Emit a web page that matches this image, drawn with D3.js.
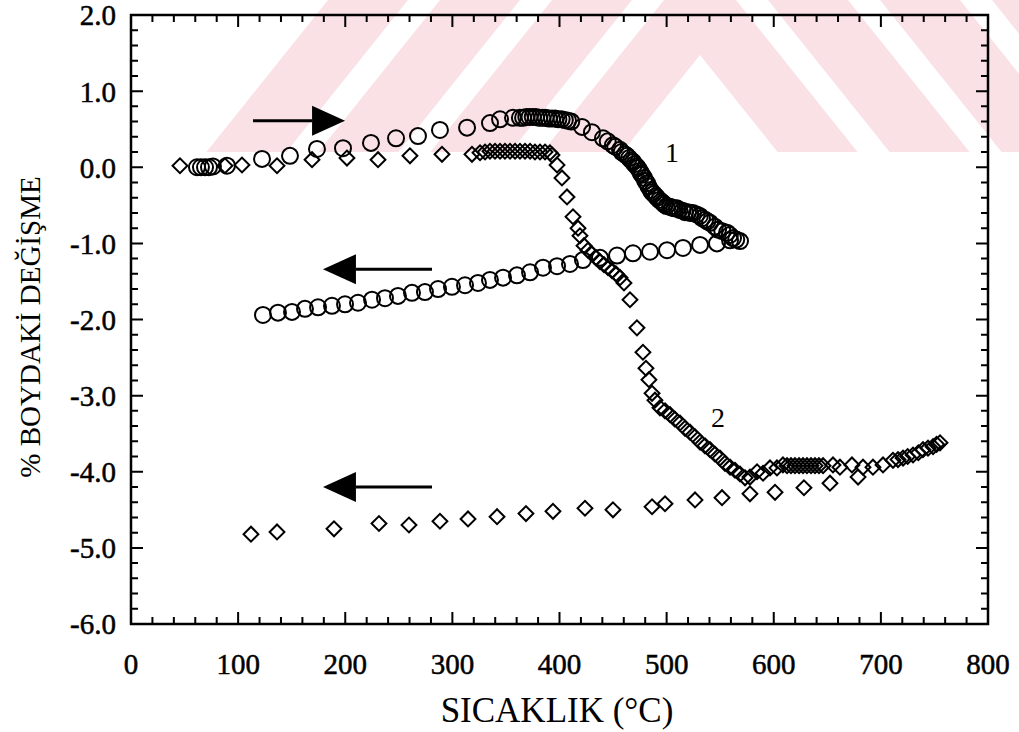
<!DOCTYPE html>
<html>
<head>
<meta charset="utf-8">
<script src="https://cdn.jsdelivr.net/npm/d3@7"></script>
<style>
  body { margin: 0; background: #fff; }
  text { font-family: "Liberation Serif", "Times New Roman", serif; fill: #000; }
</style>
</head>
<body>
<svg id="chart" width="1019" height="732"></svg>
<script>
// sample 1 (circles): heating, then cooling  [T (C), % change]
var circleHeating = [[61.6,0.00],[65.3,0.00],[69.1,0.00],[72.8,0.00],[76.5,0.01],[89.6,0.02],[122.3,0.11],[148.4,0.15],[173.6,0.24],[197.9,0.25],[224.0,0.32],[247.4,0.38],[267.9,0.41],[288.4,0.49],[313.7,0.52],[335.1,0.58],[344.5,0.63],[356.6,0.65],[363,0.65],[366,0.65],[369,0.66],[372,0.66],[375,0.66],[378,0.66],[381,0.65],[384,0.65],[387,0.65],[390,0.64],[393,0.64],[396,0.64],[399,0.63],[402,0.63],[405,0.62],[408,0.61],[411,0.60],[421.0,0.53],[430.3,0.46],[440.6,0.38],[445,0.34],[449.9,0.29],[452,0.27],[456.5,0.23],[458,0.20],[461,0.17],[463,0.15],[465,0.12],[467,0.09],[468.6,0.07],[470,0.04],[472,0.01],[473.3,-0.01],[475,-0.05],[476,-0.08],[477,-0.10],[479,-0.14],[480,-0.18],[481.7,-0.21],[483,-0.25],[485,-0.30],[486.4,-0.33],[488,-0.35],[490,-0.38],[491,-0.40],[493,-0.43],[495,-0.45],[496.6,-0.47],[498,-0.49],[500,-0.51],[503.2,-0.52],[505,-0.53],[507,-0.54],[509.7,-0.54],[512,-0.56],[515,-0.57],[517.2,-0.59],[520,-0.59],[522,-0.60],[524.6,-0.60],[528,-0.62],[531,-0.64],[533,-0.67],[536,-0.69],[538,-0.71],[540.5,-0.73],[545,-0.78],[548,-0.82],[552,-0.84],[556.4,-0.86],[559,-0.89],[562,-0.93],[565,-0.95],[568.5,-0.97]];
var circleCooling = [[559.2,-0.96],[547.0,-1.00],[531.2,-1.02],[515.3,-1.06],[500.4,-1.09],[484.5,-1.11],[468.6,-1.13],[453.7,-1.16],[437.8,-1.19],[421.9,-1.22],[409.8,-1.27],[397.7,-1.30],[384.6,-1.32],[372.5,-1.38],[360.3,-1.42],[347.3,-1.45],[335.1,-1.48],[323.9,-1.52],[311.8,-1.55],[299.6,-1.57],[286.6,-1.60],[274.4,-1.64],[262.3,-1.65],[249.2,-1.69],[237.1,-1.72],[225.0,-1.74],[211.9,-1.78],[199.8,-1.80],[187.6,-1.82],[174.6,-1.84],[162.4,-1.86],[150.3,-1.90],[137.2,-1.91],[123.2,-1.94]];

// sample 2 (diamonds): heating, then cooling
var diamondHeating = [[45.7,0.02],[87.7,0.02],[103.6,0.03],[136.3,0.02],[169.0,0.10],[201.6,0.12],[230.6,0.10],[260.4,0.15],[290.3,0.17],[318.3,0.17],[325.8,0.19],[330.5,0.20],[335.1,0.21],[339.8,0.21],[344.5,0.21],[349.1,0.21],[353.8,0.21],[358.5,0.21],[363.1,0.21],[367.8,0.21],[372.5,0.21],[377.1,0.20],[381.8,0.20],[386.5,0.20],[391.1,0.19],[393.0,0.16],[397.7,0.03],[402.3,-0.14],[407.0,-0.39],[412.6,-0.65],[417.3,-0.80],[419.1,-0.90],[422.9,-1.03],[426.6,-1.09],[430.3,-1.14],[434.1,-1.19],[437.8,-1.24],[441.5,-1.28],[445.3,-1.32],[449.0,-1.36],[452.7,-1.40],[456.5,-1.45],[460.2,-1.52],[465.8,-1.74],[472.3,-2.11],[477.9,-2.43],[480.7,-2.64],[483.5,-2.79],[486.4,-2.97],[489.1,-3.06],[493.8,-3.16],[498.5,-3.20],[503.2,-3.25],[507.8,-3.31],[512.5,-3.36],[517.2,-3.43],[521.8,-3.48],[526.5,-3.54],[531.2,-3.61],[535.8,-3.66],[540.5,-3.71],[545.2,-3.77],[549.8,-3.82],[554.5,-3.89],[559.2,-3.94],[563.8,-3.98],[568.5,-4.03],[573.2,-4.08],[577.8,-4.07],[584.4,-4.00],[590.0,-4.02],[596.5,-3.95],[603.0,-3.95],[608.6,-3.91],[612.4,-3.92],[616.1,-3.92],[619.8,-3.92],[623.6,-3.92],[627.3,-3.92],[631.0,-3.92],[634.8,-3.92],[638.5,-3.92],[642.2,-3.92],[646.0,-3.92],[655.3,-3.91],[661.8,-3.94],[673.0,-3.91],[683.3,-3.94],[692.6,-3.94],[702.0,-3.91],[711.3,-3.85],[716,-3.84],[720.7,-3.82],[725,-3.80],[730.0,-3.78],[735,-3.75],[739.3,-3.71],[744,-3.69],[748.7,-3.67],[752,-3.64],[755.2,-3.62]];
var diamondCooling = [[678.7,-4.07],[652.5,-4.15],[628.2,-4.21],[601.2,-4.27],[577.8,-4.29],[551.7,-4.34],[526.5,-4.37],[498.5,-4.42],[486.4,-4.46],[449.9,-4.50],[423.8,-4.48],[393.9,-4.52],[368.7,-4.55],[341.7,-4.59],[314.6,-4.62],[288.4,-4.65],[259.5,-4.70],[231.5,-4.68],[189.5,-4.75],[136.3,-4.79],[112.0,-4.82]];

var xTicks = [0, 100, 200, 300, 400, 500, 600, 700, 800];
var yTicks = [2, 1, 0, -1, -2, -3, -4, -5, -6];

// direction arrows [from, to] and curve numbers
var arrows = [[[113.9, 0.61], [199.8, 0.61]], [[281, -1.34], [179.2, -1.34]], [[281, -4.20], [179.2, -4.20]]];
var curveLabels = [["1", 505, 0.20], ["2", 548, -3.28]];

var width = 1019,
    height = 732;

var x = d3.scaleLinear().domain([0, 800]).range([131, 988]);
var y = d3.scaleLinear().domain([-6, 2]).range([624, 15]);

var svg = d3.select("#chart");

// faint watermark behind the plot (nested chevrons)
svg.append("clipPath").attr("id", "wmclip")
  .append("rect").attr("x", 120).attr("y", 0).attr("width", width - 120).attr("height", 152);
var wm = svg.append("g").attr("clip-path", "url(#wmclip)");
var cx = 700, slope = 1.25;
[[-45, 55], [-185, -85], [-325, -225], [-465, -365]].forEach(function(b) {
  var far = 600;
  var pts = [[cx - far, b[0] + slope * far], [cx, b[0]], [cx + far, b[0] + slope * far],
             [cx + far, b[1] + slope * far], [cx, b[1]], [cx - far, b[1] + slope * far]];
  wm.append("path")
      .attr("d", "M" + pts.join("L") + "Z")
      .attr("fill", "#fae1e6");
});

svg.append("rect")
    .attr("x", x(0))
    .attr("y", y(2))
    .attr("width", x(800) - x(0))
    .attr("height", y(-6) - y(2))
    .attr("fill", "none")
    .attr("stroke", "#000")
    .attr("stroke-width", 2.5);

// ticks, drawn inward on all four sides
function minor(lo, hi, step, majorStep) {
  return d3.range(lo, hi + step / 2, step).filter(function(v) {
    return Math.abs(v / majorStep - Math.round(v / majorStep)) > 1e-6;
  });
}
var xMinor = minor(0, 800, 20, 100);
var yMinor = minor(-6, 2, 0.2, 1);

var tickPath = d3.path();
xTicks.forEach(function(d) {
  tickPath.moveTo(x(d), y(-6)); tickPath.lineTo(x(d), y(-6) - 12);
  tickPath.moveTo(x(d), y(2)); tickPath.lineTo(x(d), y(2) + 12);
});
xMinor.forEach(function(d) {
  tickPath.moveTo(x(d), y(-6)); tickPath.lineTo(x(d), y(-6) - 7);
  tickPath.moveTo(x(d), y(2)); tickPath.lineTo(x(d), y(2) + 7);
});
yTicks.forEach(function(d) {
  tickPath.moveTo(x(0), y(d)); tickPath.lineTo(x(0) + 12, y(d));
  tickPath.moveTo(x(800), y(d)); tickPath.lineTo(x(800) - 12, y(d));
});
yMinor.forEach(function(d) {
  tickPath.moveTo(x(0), y(d)); tickPath.lineTo(x(0) + 7, y(d));
  tickPath.moveTo(x(800), y(d)); tickPath.lineTo(x(800) - 7, y(d));
});
svg.append("path")
    .attr("d", tickPath.toString())
    .attr("fill", "none")
    .attr("stroke", "#000")
    .attr("stroke-width", 2);

var labelFont = "29px";

svg.append("g").selectAll("text")
    .data(xTicks)
  .enter().append("text")
    .attr("x", d => x(d))
    .attr("y", y(-6) + 50)
    .attr("text-anchor", "middle")
    .style("font-size", labelFont)
    .style("stroke", "#000").style("stroke-width", 0.5)
    .text(d => d);

svg.append("g").selectAll("text")
    .data(yTicks)
  .enter().append("text")
    .attr("x", x(0) - 15)
    .attr("y", d => y(d))
    .attr("dy", "0.36em")
    .attr("text-anchor", "end")
    .style("font-size", labelFont)
    .style("stroke", "#000").style("stroke-width", 0.5)
    .text(d => d.toFixed(1));

// data markers
var marks = svg.append("g");

marks.selectAll(".circ")
    .data(circleHeating.concat(circleCooling))
  .enter().append("circle")
    .attr("class", "circ")
    .attr("cx", d => x(d[0]))
    .attr("cy", d => y(d[1]))
    .attr("r", 8)
    .attr("fill", "none")
    .attr("stroke", "#000")
    .attr("stroke-width", 2);

var diamond = d3.symbol().type(d3.symbolSquare).size(110);

marks.selectAll(".diam")
    .data(diamondHeating.concat(diamondCooling))
  .enter().append("path")
    .attr("class", "diam")
    .attr("d", diamond)
    .attr("transform", d => "translate(" + x(d[0]) + "," + y(d[1]) + ") rotate(45)")
    .attr("fill", "none")
    .attr("stroke", "#000")
    .attr("stroke-width", 2);

// arrows
arrows.forEach(function(a) {
  var x0 = x(a[0][0]), x1 = x(a[1][0]), yy = y(a[0][1]);
  var dir = x1 > x0 ? 1 : -1;
  var headLen = 33, headHalf = 15;
  svg.append("line")
      .attr("x1", x0).attr("y1", yy)
      .attr("x2", x1 - dir * headLen).attr("y2", yy)
      .attr("stroke", "#000")
      .attr("stroke-width", 3);
  svg.append("path")
      .attr("d", "M" + x1 + "," + yy +
                 "L" + (x1 - dir * headLen) + "," + (yy - headHalf) +
                 "L" + (x1 - dir * headLen) + "," + (yy + headHalf) + "Z")
      .attr("fill", "#000");
});

svg.selectAll(".curve-label")
    .data(curveLabels)
  .enter().append("text")
    .attr("class", "curve-label")
    .attr("x", d => x(d[1]))
    .attr("y", d => y(d[2]))
    .attr("text-anchor", "middle")
    .attr("dy", "0.35em")
    .style("font-size", "28px")
    .text(d => d[0]);

// axis titles
svg.append("text")
    .attr("x", 557)
    .attr("y", 722)
    .attr("text-anchor", "middle")
    .style("font-size", "35px")
    .text("SICAKLIK (°C)");

svg.append("text")
    .attr("transform", "translate(40,327) rotate(-90)")
    .attr("text-anchor", "middle")
    .style("font-size", "29px")
    .text("% BOYDAKİ DEĞİŞME");
</script>
</body>
</html>
